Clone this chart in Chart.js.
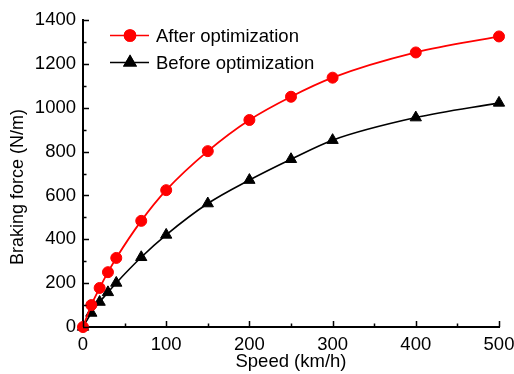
<!DOCTYPE html>
<html>
<head>
<meta charset="utf-8">
<script src="https://cdn.jsdelivr.net/npm/chart.js@4/dist/chart.umd.min.js"></script>
<style>
  html, body { margin: 0; padding: 0; background: #fff; }
  #wrap { width: 514px; height: 374px; }
</style>
</head>
<body>
<div id="wrap"><canvas id="brakeChart" width="514" height="374"></canvas></div>
<script>
// 数据
var speeds = [0, 10, 20, 30, 40, 70, 100, 150, 200, 250, 300, 400, 500];
var afterOpt = [0, 100, 178, 250, 315, 484, 624, 802, 944, 1050, 1137, 1252, 1325];
var beforeOpt = [0, 64, 114, 158, 201, 318, 420, 563, 670, 765, 852, 955, 1022];
var seriesNames = ['After optimization', 'Before optimization'];
var xTitle = 'Speed (km/h)';
var yTitle = 'Braking force (N/m)';

var FONT = 'Liberation Sans, Arial, sans-serif';

function toPoints(xs, ys) {
    return xs.map(function (x, i) { return { x: x, y: ys[i] }; });
}

// 向内的刻度线
var innerTicks = {
    id: 'innerTicks',
    afterDraw: function (chart) {
        var ctx = chart.ctx;
        var xs = chart.scales.x, ys = chart.scales.y;
        var area = chart.chartArea;
        ctx.save();
        ctx.strokeStyle = '#000';
        ctx.lineWidth = 1.5;
        ctx.beginPath();
        for (var v = xs.min; v <= xs.max; v += 50) {
            var px = Math.round(xs.getPixelForValue(v)) + 0.5;
            var len = v % 100 === 0 ? 6 : 3.5;
            ctx.moveTo(px, area.bottom);
            ctx.lineTo(px, area.bottom - len);
        }
        for (var w = ys.min; w <= ys.max; w += 100) {
            var py = Math.round(ys.getPixelForValue(w)) + 0.5;
            var l2 = w % 200 === 0 ? 6 : 3.5;
            ctx.moveTo(area.left, py);
            ctx.lineTo(area.left + l2, py);
        }
        ctx.stroke();

        // 纵轴标题（略低于中心）
        ctx.fillStyle = '#000';
        ctx.font = '18px ' + FONT;
        ctx.textAlign = 'center';
        ctx.textBaseline = 'middle';
        ctx.translate(18, 187);
        ctx.rotate(-Math.PI / 2);
        ctx.fillText(yTitle, 0, 0);
        ctx.restore();
    }
};

// 图例：线 + 标记
var lineLegend = {
    id: 'lineLegend',
    afterDraw: function (chart) {
        var ctx = chart.ctx;
        ctx.save();
        chart.data.datasets.forEach(function (ds, i) {
            var y = 35.5 + i * 27;
            ctx.strokeStyle = ds.borderColor;
            ctx.lineWidth = 1.6;
            ctx.beginPath();
            ctx.moveTo(110, y);
            ctx.lineTo(149, y);
            ctx.stroke();
            Chart.helpers.drawPoint(ctx, {
                pointStyle: ds.pointStyle,
                radius: ds.pointRadius,
                rotation: 0,
                borderWidth: 1
            }, 130, y);
            ctx.fillStyle = ds.pointBackgroundColor;
            ctx.strokeStyle = ds.pointBorderColor;
            ctx.fill();
            ctx.stroke();
            ctx.fillStyle = '#000';
            ctx.font = '18.5px ' + FONT;
            ctx.textBaseline = 'middle';
            ctx.textAlign = 'left';
            ctx.fillText(ds.label, 156, y + 1);
        });
        ctx.restore();
    }
};

document.addEventListener('DOMContentLoaded', function () {
    var ctx = document.getElementById('brakeChart').getContext('2d');
    new Chart(ctx, {
        type: 'line',
        data: {
            datasets: [{
                label: seriesNames[0],
                data: toPoints(speeds, afterOpt),
                borderColor: '#ff0000',
                borderWidth: 1.8,
                pointStyle: 'circle',
                pointRadius: 5.5,
                pointBackgroundColor: '#ff0000',
                pointBorderColor: '#ff0000',
                pointBorderWidth: 1,
                cubicInterpolationMode: 'monotone',
                clip: false
            }, {
                label: seriesNames[1],
                data: toPoints(speeds, beforeOpt),
                borderColor: '#000000',
                borderWidth: 1.6,
                pointStyle: 'triangle',
                pointRadius: 6.5,
                pointBackgroundColor: '#000000',
                pointBorderColor: '#000000',
                pointBorderWidth: 1,
                cubicInterpolationMode: 'monotone',
                clip: false
            }]
        },
        options: {
            responsive: false,
            animation: false,
            layout: { padding: { left: 0, right: 15, top: 20, bottom: 0 } },
            plugins: {
                legend: { display: false },
                tooltip: { enabled: false }
            },
            scales: {
                x: {
                    type: 'linear',
                    min: 0,
                    max: 500,
                    grid: { display: false, drawTicks: false },
                    border: { display: true, color: '#000', width: 2 },
                    ticks: {
                        stepSize: 100,
                        color: '#000',
                        padding: 7,
                        font: { family: FONT, size: 18.5 },
                        callback: function (v) { return String(v); }
                    },
                    title: {
                        display: true,
                        text: xTitle,
                        color: '#000',
                        font: { family: FONT, size: 18.5 },
                        padding: { top: 0, bottom: 1 }
                    },
                    afterFit: function (scale) {
                        scale.height = 47;
                        scale.paddingLeft = 0;
                        scale.paddingRight = 0;
                    }
                },
                y: {
                    min: 0,
                    max: 1400,
                    grid: { display: false, drawTicks: false },
                    border: { display: true, color: '#000', width: 2 },
                    ticks: {
                        stepSize: 200,
                        color: '#000',
                        padding: 7,
                        font: { family: FONT, size: 18.5 },
                        callback: function (v) { return String(v); }
                    },
                    title: { display: false },
                    afterFit: function (scale) {
                        scale.width = 83;
                        scale.paddingTop = 0;
                        scale.paddingBottom = 0;
                    }
                }
            }
        },
        plugins: [innerTicks, lineLegend]
    });
});
</script>
</body>
</html>
